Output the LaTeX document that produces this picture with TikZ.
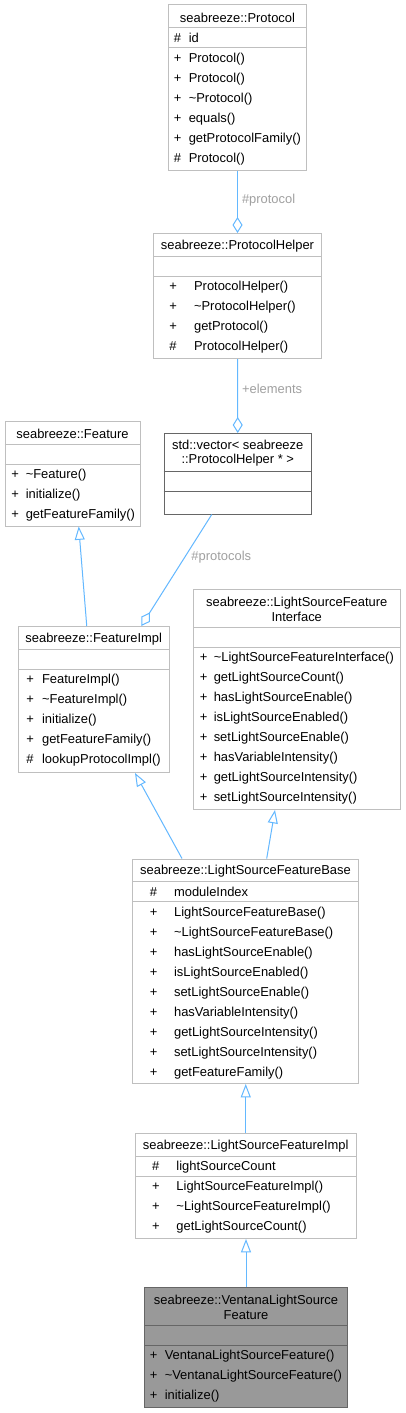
\documentclass[tikz,border=0pt]{standalone}
\usepackage{fontspec}
\setmainfont{Liberation Sans}
\usepackage{tikz}
\usetikzlibrary{calc}
\usetikzlibrary{fit}
\usetikzlibrary{arrows.meta}

\definecolor{boxgray}{HTML}{BFBFBF}
\definecolor{darkline}{HTML}{666666}
\definecolor{ventanafill}{HTML}{999999}
\definecolor{edgeblue}{HTML}{63B8FF}
\definecolor{labelgray}{HTML}{A0A0A0}

\begin{document}
\begin{tikzpicture}[x=0.75pt, y=-0.75pt,
    font=\fontsize{9.7}{10.7}\selectfont,
    classbox/.style={draw=boxgray, line width=0.75pt, inner sep=0pt, fill=white},
    classtitle/.style={inner sep=0pt, align=center, yshift=-1.1pt},
    member/.style={inner sep=0pt, anchor=west, text height=0.72em, text depth=0.22em, yshift=-1.1pt},
    inheritarrow/.style={edgeblue, line width=0.75pt, -{Triangle[open, length=10pt, width=7.5pt]}},
    aggr/.style={edgeblue, line width=0.75pt, {Diamond[open, length=12pt, width=7.5pt]}-},
    lbl/.style={inner sep=0pt, anchor=west, text=labelgray}]

\path[use as bounding box, fill=white] (0,0) rectangle (405,1413);

% class boxes
\node[classbox, fit={(168.5,5) (306.5,170)}] (protocol) {};
\node[classbox, fit={(153.5,233.5) (321.5,358.5)}] (protohelper) {};
\node[classbox, fit={(5,421.5) (140,526)}] (feature) {};
\node[classbox, draw=darkline, fit={(164,433.5) (311.5,514)}] (vector) {};
\node[classbox, fit={(18.5,626.5) (169,772.5)}] (featureimpl) {};
\node[classbox, fit={(193.5,589.5) (400,809.5)}] (lsfinterface) {};
\node[classbox, fit={(132.5,859) (358.5,1083.5)}] (lsfbase) {};
\node[classbox, fit={(135.5,1133.5) (356,1238.5)}] (lsfimpl) {};
\node[classbox, draw=darkline, fill=ventanafill, fit={(144.5,1287.5) (347.5,1407.5)}] (ventana) {};

\foreach \n/\t/\c in {protocol/23/boxgray, protohelper/23/boxgray, feature/23/boxgray,
    vector/38/darkline, featureimpl/23/boxgray, lsfinterface/38/boxgray,
    lsfbase/23/boxgray, lsfimpl/23/boxgray, ventana/38/darkline}
  \draw[\c, line width=0.75pt] ($(\n.north west)+(0,\t)$) -- ($(\n.north east)+(0,\t)$)
    ($(\n.north west)+(0,\t+20)$) -- ($(\n.north east)+(0,\t+20)$);

% titles
\node[classtitle] (protocol-title) at ($(protocol.north)+(0,11.5)$) {seabreeze::Protocol};
\node[classtitle] (protohelper-title) at ($(protohelper.north)+(0,11.5)$) {seabreeze::ProtocolHelper};
\node[classtitle] (feature-title) at ($(feature.north)+(0,11.5)$) {seabreeze::Feature};
\node[classtitle] (vector-title) at ($(vector.north)+(0,19)$) {std::vector< seabreeze\\::ProtocolHelper * >};
\node[classtitle] (featureimpl-title) at ($(featureimpl.north)+(0,11.5)$) {seabreeze::FeatureImpl};
\node[classtitle] (lsfinterface-title) at ($(lsfinterface.north)+(0,19)$) {seabreeze::LightSourceFeature\\Interface};
\node[classtitle] (lsfbase-title) at ($(lsfbase.north)+(0,11.5)$) {seabreeze::LightSourceFeatureBase};
\node[classtitle] (lsfimpl-title) at ($(lsfimpl.north)+(0,11.5)$) {seabreeze::LightSourceFeatureImpl};
\node[classtitle] (ventana-title) at ($(ventana.north)+(0,19)$) {seabreeze::VentanaLightSource\\Feature};

% members
\node[member] (protocol-va) at (173.5,37.5) {\#};
\node[member] (protocol-a) at (188.5,37.5) {id};
\foreach \s/\t [count=\i from 0] in {+/Protocol(), +/Protocol(), +/\textasciitilde Protocol(),
    +/equals(), +/getProtocolFamily(), \#/Protocol()} {
  \node[member] (protocol-v\i) at (173.5,57.5+20*\i) {\s};
  \node[member] (protocol-m\i) at (188.5,57.5+20*\i) {\t};
}
\foreach \s/\t [count=\i from 0] in {+/ProtocolHelper(), +/\textasciitilde ProtocolHelper(),
    +/getProtocol(), \#/ProtocolHelper()} {
  \node[member] (protohelper-v\i) at (169,286+20*\i) {\s};
  \node[member] (protohelper-m\i) at (193.8,286+20*\i) {\t};
}
\foreach \s/\t [count=\i from 0] in {+/\textasciitilde Feature(), +/initialize(), +/getFeatureFamily()} {
  \node[member] (feature-v\i) at (11.2,474+20*\i) {\s};
  \node[member] (feature-m\i) at (25.5,474+20*\i) {\t};
}
\foreach \s/\t [count=\i from 0] in {+/FeatureImpl(), +/\textasciitilde FeatureImpl(), +/initialize(),
    +/getFeatureFamily(), \#/lookupProtocolImpl()} {
  \node[member] (featureimpl-v\i) at (26.2,679+20*\i) {\s};
  \node[member] (featureimpl-m\i) at (41.8,679+20*\i) {\t};
}
\foreach \t [count=\i from 0] in {\textasciitilde LightSourceFeatureInterface(), getLightSourceCount(),
    hasLightSourceEnable(), isLightSourceEnabled(), setLightSourceEnable(), hasVariableIntensity(),
    getLightSourceIntensity(), setLightSourceIntensity()} {
  \node[member] (lsfinterface-v\i) at (199.5,657+20*\i) {+};
  \node[member] (lsfinterface-m\i) at (213.5,657+20*\i) {\t};
}
\node[member] (lsfbase-va) at (149.5,891.5) {\#};
\node[member] (lsfbase-a) at (173.8,891.5) {moduleIndex};
\foreach \t [count=\i from 0] in {LightSourceFeatureBase(), \textasciitilde LightSourceFeatureBase(),
    hasLightSourceEnable(), isLightSourceEnabled(), setLightSourceEnable(), hasVariableIntensity(),
    getLightSourceIntensity(), setLightSourceIntensity(), getFeatureFamily()} {
  \node[member] (lsfbase-v\i) at (149.5,911.5+20*\i) {+};
  \node[member] (lsfbase-m\i) at (173.8,911.5+20*\i) {\t};
}
\node[member] (lsfimpl-va) at (151.8,1166) {\#};
\node[member] (lsfimpl-a) at (176.2,1166) {lightSourceCount};
\foreach \t [count=\i from 0] in {LightSourceFeatureImpl(), \textasciitilde LightSourceFeatureImpl(),
    getLightSourceCount()} {
  \node[member] (lsfimpl-v\i) at (151.8,1186+20*\i) {+};
  \node[member] (lsfimpl-m\i) at (176.2,1186+20*\i) {\t};
}
\foreach \t [count=\i from 0] in {VentanaLightSourceFeature(), \textasciitilde VentanaLightSourceFeature(),
    initialize()} {
  \node[member] (ventana-v\i) at (149.5,1355+20*\i) {+};
  \node[member] (ventana-m\i) at (164.5,1355+20*\i) {\t};
}

% relations
\draw[aggr] (protohelper.north) -- node[lbl, pos=0.53, xshift=3pt] (lbl-protocol) {\#protocol} (protocol.south);
\draw[aggr] (vector.north) -- node[lbl, pos=0.6, xshift=3pt] (lbl-elements) {+elements} (protohelper.south);
\draw[aggr] ($(featureimpl.north)+(47.5,0)$) -- node[lbl, pos=0.62, xshift=4.5pt] (lbl-protocols) {\#protocols}
  ($(vector.south)+(-26,0)$);
\draw[inheritarrow] ($(featureimpl.north)+(-7,0)$) -- ($(feature.south)+(6.2,0)$);
\draw[inheritarrow] ($(lsfbase.north)+(-63.5,0)$) -- ($(featureimpl.south)+(41.25,0)$);
\draw[inheritarrow] ($(lsfbase.north)+(21.2,0)$) -- ($(lsfinterface.south)+(-21.75,0)$);
\draw[inheritarrow] (lsfimpl.north) -- (lsfimpl.north |- lsfbase.south);
\draw[inheritarrow] (ventana.north) -- (ventana.north |- lsfimpl.south);

\end{tikzpicture}
\end{document}
